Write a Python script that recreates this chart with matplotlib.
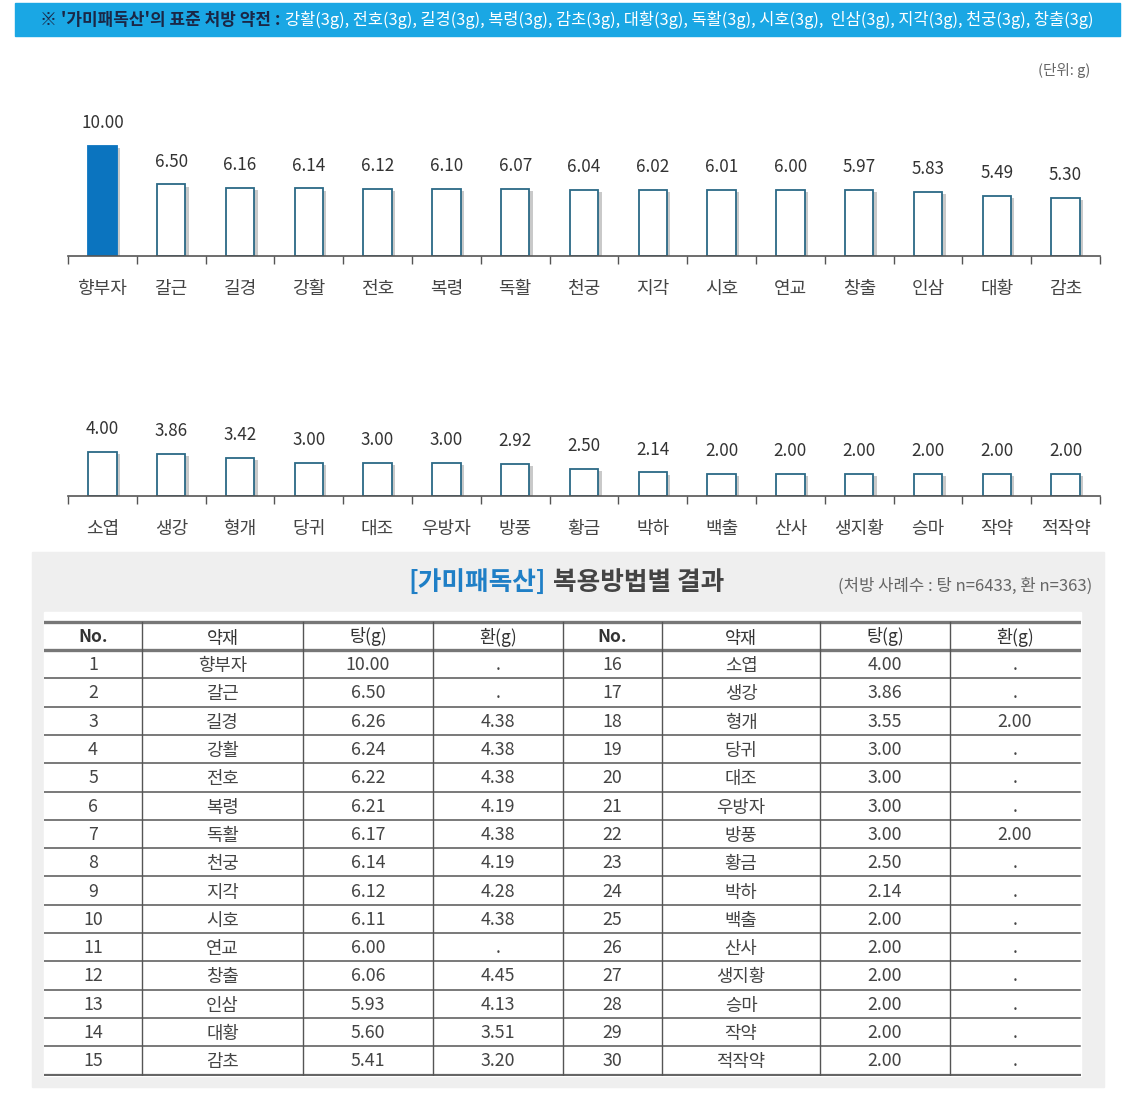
import matplotlib
matplotlib.use("Agg")
import matplotlib.pyplot as plt
import matplotlib.patheffects as pe
from matplotlib.patches import Rectangle

plt.rcParams['font.family'] = ['Noto Sans CJK KR', 'DejaVu Sans']

# top chart (g)
top_names = ['향부자', '갈근', '길경', '강활', '전호', '복령', '독활', '천궁',
             '지각', '시호', '연교', '창출', '인삼', '대황', '감초']
top_vals = [10.00, 6.50, 6.16, 6.14, 6.12, 6.10, 6.07, 6.04,
            6.02, 6.01, 6.00, 5.97, 5.83, 5.49, 5.30]

# bottom chart (g)
bot_names = ['소엽', '생강', '형개', '당귀', '대조', '우방자', '방풍', '황금',
             '박하', '백출', '산사', '생지황', '승마', '작약', '적작약']
bot_vals = [4.00, 3.86, 3.42, 3.00, 3.00, 3.00, 2.92, 2.50,
            2.14, 2.00, 2.00, 2.00, 2.00, 2.00, 2.00]

# table
tbl_herbs = top_names + bot_names
tbl_tang = [10.00, 6.50, 6.26, 6.24, 6.22, 6.21, 6.17, 6.14, 6.12, 6.11,
            6.00, 6.06, 5.93, 5.60, 5.41,
            4.00, 3.86, 3.55, 3.00, 3.00, 3.00, 3.00, 2.50, 2.14, 2.00,
            2.00, 2.00, 2.00, 2.00, 2.00]
tbl_hwan = [None, None, 4.38, 4.38, 4.38, 4.19, 4.38, 4.19, 4.28, 4.38,
            None, 4.45, 4.13, 3.51, 3.20,
            None, None, 2.00, None, None, None, 2.00, None, None, None,
            None, None, None, None, None]
tbl_cols = ['No.', '약재', '탕(g)', '환(g)']

banner_lead = "※ '가미패독산'의 표준 처방 약전 :"
banner_rest = ("강활(3g), 전호(3g), 길경(3g), 복령(3g), 감초(3g), 대황(3g), "
               "독활(3g), 시호(3g),  인삼(3g), 지각(3g), 천궁(3g), 창출(3g)")

W, H = 1145, 1118
fig = plt.figure(figsize=(W / 100, H / 100), dpi=100)
fig.patch.set_facecolor('white')


def px_axes(x0, y0, x1, y1):
    return fig.add_axes([x0 / W, 1 - y1 / H, (x1 - x0) / W, (y1 - y0) / H])


def fx(x):
    return x / W


def fy(y):
    return 1 - y / H


# banner
fig.patches.append(Rectangle((fx(15), fy(36)), (1120 - 15) / W, 33 / H,
                             transform=fig.transFigure, color='#1aa7e4', zorder=-2))
fig.text(fx(40), fy(20), banner_lead, fontsize=12.2, fontweight='bold',
         color='#1a2746', va='center', ha='left')
fig.text(fx(285), fy(20), banner_rest, fontsize=11.8, color='white',
         va='center', ha='left')

fig.text(fx(1090), fy(70), '(단위: g)', fontsize=10.5, color='#666666',
         ha='right', va='center')

shadow = [pe.SimplePatchShadow(offset=(2.5, -1.5), shadow_rgbFace='#888888', alpha=0.45),
          pe.Normal()]


def bar_chart(ax, names, vals, first_filled):
    x = range(len(names))
    faces = ['white'] * len(vals)
    edges = ['#2b6986'] * len(vals)
    if first_filled:
        faces[0] = '#0b74bf'
        edges[0] = '#0b74bf'
    bars = ax.bar(x, vals, width=0.41, color=faces, edgecolor=edges, linewidth=1.3)
    for b in bars:
        b.set_path_effects(shadow)
    for i, v in enumerate(vals):
        ax.annotate(f'{v:.2f}', (i, v), xytext=(0, 16.5), textcoords='offset points',
                    ha='center', va='center', fontsize=12.3, color='#333333')
    ax.set_xlim(-0.5, len(names) - 0.5)
    ax.set_ylim(0, 12)
    ax.set_xticks([i - 0.5 for i in range(len(names) + 1)])
    ax.set_xticklabels([])
    ax.set_xticks(list(x), minor=True)
    ax.set_xticklabels(names, minor=True, fontsize=13, color='#444444')
    ax.tick_params(axis='x', which='major', direction='out', length=5.5,
                   width=1, color='#555555')
    ax.tick_params(axis='x', which='minor', length=0, pad=17)
    ax.set_yticks([])
    for s in ['top', 'left', 'right']:
        ax.spines[s].set_visible(False)
    ax.spines['bottom'].set_color('#555555')
    ax.spines['bottom'].set_linewidth(1.2)
    ax.patch.set_alpha(0)


ax1 = px_axes(68, 124, 1100, 256)
bar_chart(ax1, top_names, top_vals, True)
ax2 = px_axes(68, 364, 1100, 496)
bar_chart(ax2, bot_names, bot_vals, False)

# lower panel
fig.patches.append(Rectangle((fx(32), fy(1087)), (1104 - 32) / W, (1087 - 552) / H,
                             transform=fig.transFigure, color='#efefef', zorder=-2))
fig.patches.append(Rectangle((fx(44), fy(1076)), (1081 - 44) / W, (1076 - 612) / H,
                             transform=fig.transFigure, color='white', zorder=-1))
fig.text(fx(546), fy(582), '[가미패독산]', fontsize=18.5, fontweight='bold',
         color='#1f7fc6', ha='right', va='center')
fig.text(fx(553), fy(582), '복용방법별 결과', fontsize=18.5, fontweight='bold',
         color='#444444', ha='left', va='center')
fig.text(fx(1092), fy(586), '(처방 사례수 : 탕 n=6433, 환 n=363)', fontsize=12,
         color='#666666', ha='right', va='center')

# table
tx = px_axes(44, 612, 1081, 1076)
tx.set_xlim(44, 1081)
tx.set_ylim(1076, 612)
tx.axis('off')
col_edges = [44, 142, 303, 433, 563, 662, 820, 950, 1080]
head_top, head_bot = 622, 650
row_h = (1074.5 - head_bot) / 15

tx.plot([44, 1080], [head_top, head_top], color='#777777', lw=2.4)
tx.plot([44, 1080], [head_bot, head_bot], color='#777777', lw=2.4)
for r in range(1, 15):
    y = head_bot + r * row_h
    tx.plot([44, 1080], [y, y], color='#555555', lw=1.1)
tx.plot([44, 1080], [head_bot + 15 * row_h] * 2, color='#666666', lw=1.6)
for xe in col_edges[1:-1]:
    tx.plot([xe, xe], [head_top, head_bot + 15 * row_h], color='#555555', lw=1.0)

for half in range(2):
    for c, name in enumerate(tbl_cols):
        cx = (col_edges[half * 4 + c] + col_edges[half * 4 + c + 1]) / 2
        tx.text(cx, (head_top + head_bot) / 2 + (1 if c != 1 else 3), name,
                ha='center', va='center', fontsize=12.5,
                fontweight='bold' if c == 0 else 'normal', color='#333333')

for i in range(30):
    half, r = divmod(i, 15)
    cy = head_bot + (r + 0.5) * row_h
    hw = tbl_hwan[i]
    cells = [str(i + 1), tbl_herbs[i], f'{tbl_tang[i]:.2f}',
             '.' if hw is None else f'{hw:.2f}']
    for c, s in enumerate(cells):
        cx = (col_edges[half * 4 + c] + col_edges[half * 4 + c + 1]) / 2
        tx.text(cx, cy + (2 if c == 1 else 1), s, ha='center', va='center',
                fontsize=12.8, color='#444444')

fig.savefig('out.png', dpi=100)
